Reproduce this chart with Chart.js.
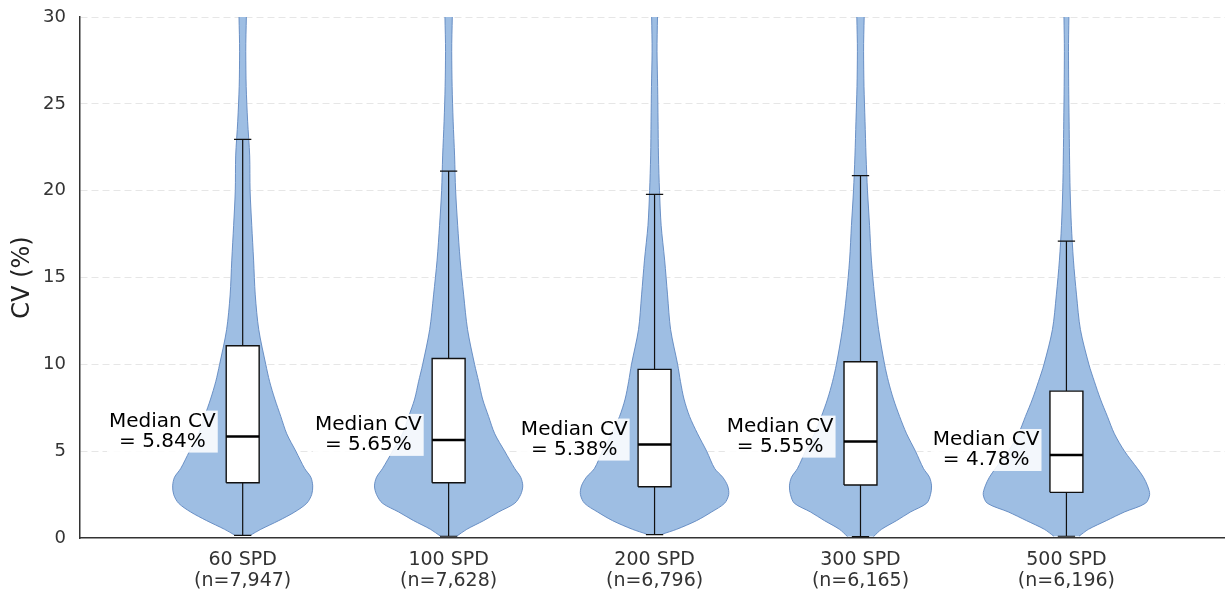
<!DOCTYPE html>
<html>
<head>
<meta charset="utf-8">
<script src="https://cdn.jsdelivr.net/npm/chart.js@4.4.0/dist/chart.umd.min.js"></script>
<style>
  html, body { margin: 0; padding: 0; background: #fff; }
  #wrap { width: 1225px; height: 597px; position: relative; }
</style>
</head>
<body>
<div id="wrap"><canvas id="cv-chart"></canvas></div>
<script>
// groups on the x axis
const groups = ['60 SPD', '100 SPD', '200 SPD', '300 SPD', '500 SPD'];
const sampleSizes = ['(n=7,947)', '(n=7,628)', '(n=6,796)', '(n=6,165)', '(n=6,196)'];
const positions = [1, 2, 3, 4, 5];

// box plot stats (CV %)
const medians = [5.84, 5.65, 5.38, 5.55, 4.78];
const q1 = [3.18, 3.18, 2.95, 3.05, 2.63];
const q3 = [11.07, 10.34, 9.71, 10.15, 8.46];
const whiskerLow = [0.15, 0.10, 0.20, 0.08, 0.10];
const whiskerHigh = [22.95, 21.13, 19.79, 20.87, 17.10];

// violin outline: half width (x units) at each CV level
const violinMin = [0.17, 0.10, 0.23, 0.08, 0.10];
const violinBase = [0.039, 0.039, 0.039, 0.063, 0.061];
const cvLevels = [0.5, 1, 1.5, 2, 2.5, 3, 3.5, 4, 5, 6, 7, 8, 9, 10, 12, 14, 16, 18, 20, 22, 24, 26, 28, 32];
const violin60 = [0.088, 0.175, 0.253, 0.311, 0.335, 0.340, 0.331, 0.301, 0.258, 0.214, 0.185, 0.156, 0.131, 0.112, 0.078, 0.061, 0.053, 0.044, 0.036, 0.034, 0.024, 0.017, 0.015, 0.015];
const violin100 = [0.088, 0.170, 0.243, 0.321, 0.350, 0.360, 0.350, 0.321, 0.272, 0.224, 0.194, 0.165, 0.146, 0.126, 0.092, 0.073, 0.056, 0.044, 0.034, 0.029, 0.022, 0.017, 0.015, 0.015];
const violin200 = [0.107, 0.204, 0.277, 0.340, 0.360, 0.355, 0.331, 0.292, 0.253, 0.209, 0.170, 0.143, 0.126, 0.112, 0.078, 0.063, 0.049, 0.032, 0.024, 0.019, 0.017, 0.015, 0.012, 0.012];
const violin300 = [0.102, 0.175, 0.243, 0.321, 0.340, 0.345, 0.335, 0.306, 0.267, 0.224, 0.190, 0.160, 0.136, 0.117, 0.088, 0.068, 0.053, 0.044, 0.034, 0.027, 0.022, 0.017, 0.015, 0.015];
const violin500 = [0.107, 0.194, 0.282, 0.384, 0.404, 0.394, 0.374, 0.345, 0.282, 0.233, 0.199, 0.165, 0.136, 0.109, 0.068, 0.049, 0.034, 0.024, 0.018, 0.015, 0.013, 0.011, 0.010, 0.010];
const violinHalf = [violin60, violin100, violin200, violin300, violin500];

const yTicks = [0, 5, 10, 15, 20, 25, 30];

const BOX_HALF = 0.08;
const CAP_HALF = 0.042;
const LABEL_SHIFT = 0.39;
const FONT = 'DejaVu Sans';

function violinOutline(i) {
    const c = positions[i];
    const right = [{ x: c + violinBase[i], y: violinMin[i] }];
    cvLevels.forEach((y, k) => right.push({ x: c + violinHalf[i][k], y: y }));
    const left = right.map(p => ({ x: 2 * c - p.x, y: p.y })).reverse();
    return right.concat(left);
}

function boxOutline(i) {
    const c = positions[i];
    return [
        { x: c - BOX_HALF, y: q1[i] }, { x: c + BOX_HALF, y: q1[i] },
        { x: c + BOX_HALF, y: q3[i] }, { x: c - BOX_HALF, y: q3[i] },
        { x: c - BOX_HALF, y: q1[i] }
    ];
}

const datasets = [];

positions.forEach((c, i) => {
    datasets.push({
        label: 'violin ' + groups[i],
        data: violinOutline(i),
        showLine: true,
        fill: 'shape',
        backgroundColor: 'rgba(158, 190, 227, 1)',
        borderColor: 'rgba(95, 135, 192, 0.9)',
        borderWidth: 1,
        tension: 0.3,
        pointRadius: 0,
        order: 10
    });
});

// whiskers and caps
const whiskerPts = [];
positions.forEach((c, i) => {
    whiskerPts.push({ x: c, y: whiskerLow[i] }, { x: c, y: whiskerHigh[i] }, { x: c, y: null });
    whiskerPts.push({ x: c - CAP_HALF, y: whiskerHigh[i] }, { x: c + CAP_HALF, y: whiskerHigh[i] }, { x: c, y: null });
    whiskerPts.push({ x: c - CAP_HALF, y: whiskerLow[i] }, { x: c + CAP_HALF, y: whiskerLow[i] }, { x: c, y: null });
});
datasets.push({
    label: 'whiskers',
    data: whiskerPts,
    showLine: true,
    spanGaps: false,
    borderColor: '#111',
    borderWidth: 1.2,
    pointRadius: 0,
    order: 8
});

positions.forEach((c, i) => {
    datasets.push({
        label: 'box ' + groups[i],
        data: boxOutline(i),
        showLine: true,
        fill: 'shape',
        backgroundColor: '#ffffff',
        borderColor: '#111',
        borderWidth: 1.4,
        pointRadius: 0,
        order: 6
    });
});

const medianPts = [];
positions.forEach((c, i) => {
    medianPts.push({ x: c - BOX_HALF, y: medians[i] }, { x: c + BOX_HALF, y: medians[i] }, { x: c, y: null });
});
datasets.push({
    label: 'median',
    data: medianPts,
    showLine: true,
    spanGaps: false,
    borderColor: '#000',
    borderWidth: 2.5,
    pointRadius: 0,
    order: 4
});

// "Median CV = x%" labels left of each box
const medianLabels = {
    id: 'medianLabels',
    afterDatasetsDraw(chart) {
        const ctx = chart.ctx;
        const xs = chart.scales.x;
        const ys = chart.scales.y;
        ctx.save();
        ctx.font = '20px "' + FONT + '"';
        ctx.textAlign = 'center';
        ctx.textBaseline = 'middle';
        positions.forEach((c, i) => {
            const line1 = 'Median CV';
            const line2 = '= ' + medians[i].toFixed(2) + '%';
            const cx = xs.getPixelForValue(c - LABEL_SHIFT);
            const my = ys.getPixelForValue(medians[i]);
            const y1 = my - 15;
            const y2 = my + 5;
            const w = Math.max(ctx.measureText(line1).width, ctx.measureText(line2).width) + 4;
            ctx.fillStyle = 'rgba(255,255,255,0.88)';
            ctx.fillRect(cx - w / 2, y1 - 11, w, (y2 + 11) - (y1 - 11));
            ctx.fillStyle = '#000';
            ctx.fillText(line1, cx, y1);
            ctx.fillText(line2, cx, y2);
        });
        ctx.restore();
    }
};

new Chart(document.getElementById('cv-chart'), {
    type: 'scatter',
    data: { datasets: datasets },
    options: {
        responsive: true,
        maintainAspectRatio: false,
        animation: false,
        layout: { padding: { top: 17, right: 0, bottom: 0, left: 0 } },
        plugins: {
            legend: { display: false },
            tooltip: { enabled: false }
        },
        scales: {
            x: {
                type: 'linear',
                min: 0.21,
                max: 5.77,
                afterBuildTicks: (scale) => {
                    scale.ticks = positions.map(v => ({ value: v }));
                },
                afterFit: (scale) => {
                    scale.height = 59;
                    scale.paddingLeft = 0;
                    scale.paddingRight = 0;
                },
                grid: { display: false, drawTicks: false },
                border: { display: true, color: '#333', width: 1.5 },
                ticks: {
                    padding: 12,
                    color: '#333',
                    font: { family: FONT, size: 19, lineHeight: 1.1 },
                    callback: (value) => {
                        const i = positions.indexOf(value);
                        return i >= 0 ? [groups[i], sampleSizes[i]] : '';
                    }
                }
            },
            y: {
                min: 0,
                max: 30,
                afterBuildTicks: (scale) => {
                    scale.ticks = yTicks.map(v => ({ value: v }));
                },
                afterFit: (scale) => {
                    scale.width = 80;
                    scale.paddingTop = 0;
                    scale.paddingBottom = 0;
                },
                grid: {
                    drawTicks: false,
                    color: (ctx) => (ctx.tick && ctx.tick.value === 0) ? 'rgba(0,0,0,0)' : '#e6e6e6',
                    lineWidth: 1
                },
                border: { display: true, color: '#333', width: 1.5, dash: [7, 4] },
                ticks: {
                    padding: 14,
                    color: '#333',
                    font: { family: FONT, size: 18 }
                },
                title: {
                    display: true,
                    text: 'CV (%)',
                    color: '#222',
                    padding: { top: 8, bottom: 0 },
                    font: { family: FONT, size: 24 }
                }
            }
        }
    },
    plugins: [medianLabels]
});
</script>
</body>
</html>
